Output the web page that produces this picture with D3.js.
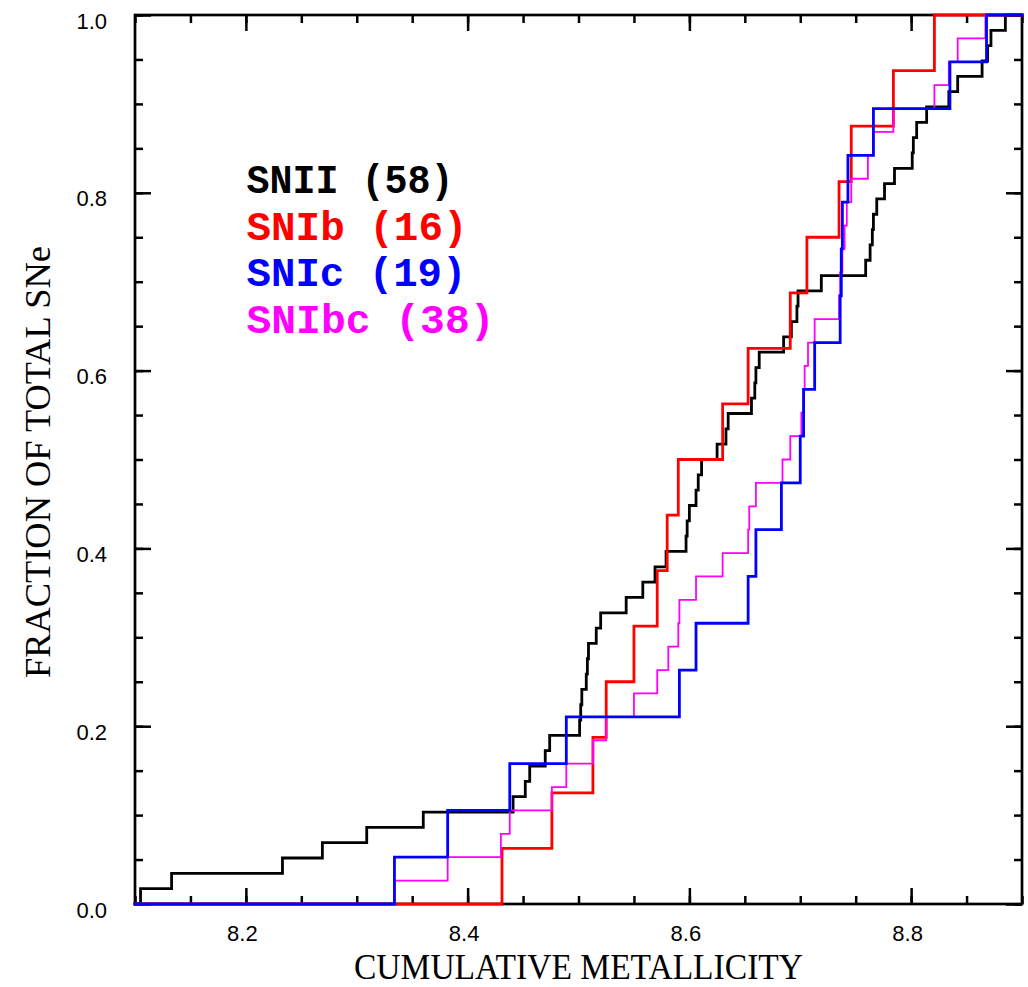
<!DOCTYPE html>
<html>
<head>
<meta charset="utf-8">
<script src="https://cdn.jsdelivr.net/npm/d3@7"></script>
<style>
  html, body { margin: 0; padding: 0; background: #fff; }
  svg { display: block; }
</style>
</head>
<body>
<svg id="chart"></svg>
<script>
// DATA (metallicity of each SN, sorted)
var snII = [8.105, 8.133, 8.233, 8.269, 8.309, 8.360, 8.441, 8.452, 8.456, 8.470,
            8.474, 8.501, 8.502, 8.503, 8.507, 8.508, 8.509, 8.516, 8.520, 8.543,
            8.558, 8.569, 8.579, 8.597, 8.598, 8.600, 8.606, 8.608, 8.611, 8.625,
            8.633, 8.635, 8.656, 8.659, 8.660, 8.663, 8.685, 8.692, 8.697, 8.698,
            8.719, 8.759, 8.763, 8.765, 8.766, 8.769, 8.776, 8.785, 8.801, 8.802,
            8.805, 8.814, 8.834, 8.842, 8.864, 8.869, 8.872, 8.885];
var snIb = [8.431, 8.476, 8.513, 8.525, 8.550, 8.571, 8.580, 8.590, 8.630, 8.653,
            8.691, 8.706, 8.735, 8.746, 8.784, 8.821];
var snIc = [8.334, 8.382, 8.438, 8.489, 8.591, 8.606, 8.653, 8.660, 8.683, 8.700,
            8.703, 8.713, 8.736, 8.737, 8.738, 8.743, 8.766, 8.835, 8.868];
var snIbc = [8.334, 8.382, 8.430, 8.438, 8.476, 8.489, 8.513, 8.525, 8.550, 8.571,
             8.581, 8.590, 8.591, 8.606, 8.630, 8.653, 8.654, 8.660, 8.684, 8.691,
             8.701, 8.703, 8.704, 8.707, 8.713, 8.735, 8.736, 8.738, 8.740, 8.742,
             8.746, 8.761, 8.766, 8.784, 8.821, 8.834, 8.842, 8.867];

var seriesNames = ["SNII", "SNIb", "SNIc", "SNIbc"];
var seriesColors = ["#000000", "#ff0000", "#0000ff", "#ff00ff"];
var xMajorTicks = [8.2, 8.4, 8.6, 8.8];
var yMajorTicks = [0.0, 0.2, 0.4, 0.6, 0.8, 1.0];
var xTitle = "CUMULATIVE METALLICITY";
var yTitle = "FRACTION OF TOTAL SNe";

// SIZES
var width = 1028;
var height = 987;
var margin = {top: 15, right: 6, bottom: 83, left: 135};

var svg = d3.select("#chart")
  .attr("width", width)
  .attr("height", height);

// Scales
var xScale = d3.scaleLinear()
  .domain([8.1, 8.9])
  .range([margin.left, width - margin.right]);
var yScale = d3.scaleLinear()
  .domain([0, 1])
  .range([height - margin.bottom, margin.top]);

var xMinorTicks = d3.range(8.1, 8.9001, 0.05);
var yMinorTicks = d3.range(0, 1.0001, 0.05);

// Axis helper: inward ticks on all four sides
function drawAxis(axisFn, scale, values, size, transform, labels) {
  var axis = axisFn(scale)
    .tickValues(values)
    .tickSize(size)
    .tickSizeOuter(0)
    .tickFormat(labels ? d3.format(".1f") : "");
  var g = svg.append("g")
    .attr("transform", transform)
    .call(axis);
  g.select(".domain").remove();
  g.selectAll(".tick line")
    .attr("stroke", "#000")
    .attr("stroke-width", 2.5);
  g.selectAll("text")
    .attr("font-family", "'Liberation Sans', Arial, sans-serif")
    .attr("font-size", 22)
    .attr("fill", "#000");
  return g;
}

var bottomY = yScale(0), topY = yScale(1);
var leftX = xScale(8.1), rightX = xScale(8.9);

// bottom
drawAxis(d3.axisBottom, xScale, xMinorTicks, -8, "translate(0," + bottomY + ")", false);
var xAxisG = drawAxis(d3.axisBottom, xScale, xMajorTicks, -16, "translate(0," + bottomY + ")", true);
xAxisG.selectAll("text")
  .attr("y", 36.5)
  .attr("dy", null)
  .attr("x", -4);
// top
drawAxis(d3.axisTop, xScale, xMinorTicks, -8, "translate(0," + topY + ")", false);
drawAxis(d3.axisTop, xScale, xMajorTicks, -16, "translate(0," + topY + ")", false);
// left
drawAxis(d3.axisLeft, yScale, yMinorTicks, -8, "translate(" + leftX + ",0)", false);
var yAxisG = drawAxis(d3.axisLeft, yScale, yMajorTicks, -16, "translate(" + leftX + ",0)", true);
yAxisG.selectAll("text")
  .attr("x", -28)
  .attr("dy", null)
  .attr("y", 13);
// right
drawAxis(d3.axisRight, yScale, yMinorTicks, -8, "translate(" + rightX + ",0)", false);
drawAxis(d3.axisRight, yScale, yMajorTicks, -16, "translate(" + rightX + ",0)", false);

// Frame
svg.append("rect")
  .attr("x", leftX)
  .attr("y", topY)
  .attr("width", rightX - leftX)
  .attr("height", bottomY - topY)
  .attr("fill", "none")
  .attr("stroke", "#000")
  .attr("stroke-width", 2.7);

// Axis titles
svg.append("text")
  .attr("x", (leftX + rightX) / 2)
  .attr("y", 979)
  .attr("text-anchor", "middle")
  .attr("font-family", "'Liberation Serif', 'Times New Roman', serif")
  .attr("font-size", 36)
  .attr("textLength", 449)
  .attr("lengthAdjust", "spacingAndGlyphs")
  .text(xTitle);

svg.append("text")
  .attr("transform", "translate(50," + 462 + ") rotate(-90)")
  .attr("text-anchor", "middle")
  .attr("font-family", "'Liberation Serif', 'Times New Roman', serif")
  .attr("font-size", 36)
  .attr("textLength", 432)
  .attr("lengthAdjust", "spacingAndGlyphs")
  .text(yTitle);

// Cumulative step curves
var stepLine = d3.line()
  .x(function(d) { return xScale(d[0]); })
  .y(function(d) { return yScale(d[1]); })
  .curve(d3.curveStepAfter);

function cumulative(values) {
  var n = values.length;
  var pts = [[8.1, 0]];
  values.forEach(function(v, i) { pts.push([v, (i + 1) / n]); });
  pts.push([8.9, 1]);
  return pts;
}

var allSeries = [snII, snIb, snIc, snIbc];
var lineWidths = [2.8, 2.8, 2.8, 1.8];
// draw order: black, red, magenta, blue (blue on top)
[0, 1, 3, 2].forEach(function(i) {
  svg.append("path")
    .datum(cumulative(allSeries[i]))
    .attr("d", stepLine)
    .attr("fill", "none")
    .attr("stroke", seriesColors[i])
    .attr("stroke-width", lineWidths[i])
    .attr("stroke-linejoin", "miter")
    .attr("stroke-linecap", "square");
});

// Legend
var legendBaselines = [193, 239.5, 286, 332.5];
var legendWidths = [207, 221, 220, 248];
svg.append("g")
  .selectAll("text")
  .data(seriesNames)
  .join("text")
  .attr("x", 246.5)
  .attr("y", function(d, i) { return legendBaselines[i]; })
  .attr("font-family", "'Liberation Mono', 'Courier New', monospace")
  .attr("font-weight", "bold")
  .attr("font-size", 41)
  .attr("textLength", function(d, i) { return legendWidths[i]; })
  .attr("lengthAdjust", "spacingAndGlyphs")
  .attr("fill", function(d, i) { return seriesColors[i]; })
  .text(function(d, i) { return d + " (" + allSeries[i].length + ")"; });
</script>
</body>
</html>
